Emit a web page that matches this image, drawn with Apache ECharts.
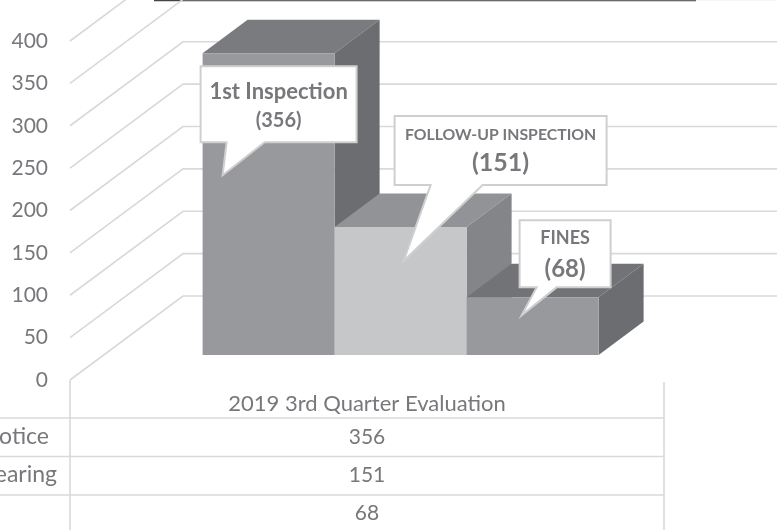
<!DOCTYPE html>
<html>
<head>
<meta charset="utf-8">
<style>
  html, body { margin: 0; padding: 0; background: #fff; overflow: hidden; }
  #chart { width: 778px; height: 530px; }
</style>
<script src="https://cdn.jsdelivr.net/npm/echarts@6/dist/echarts.min.js"></script>
</head>
<body>
<div id="chart"></div>
<script>
const categories = ["2019 3rd Quarter Evaluation"];
const yTicks = [0, 50, 100, 150, 200, 250, 300, 350, 400];
const rowNames = ["Notice", "Hearing", ""];
const inspectionValues = [356];
const hearingValues = [151];
const fineValues = [68];
const calloutTitles = ["1st Inspection", "FOLLOW-UP INSPECTION", "FINES"];

const seriesValues = [inspectionValues, hearingValues, fineValues];

const FONT = "Lato, 'Open Sans', sans-serif";
const TEXT = "#77787b";
const GRID = "#d9d9da";

// perspective of the fake 3d box, in px
const wall = { dx: 113, dy: -84 };
const barInset = { dx: 33.6, dy: -25 };
const barDepth = { dx: 45, dy: -33.5 };

const barColors = [
  { front: "#98999c", top: "#7a7b7e", side: "#6c6d70" },
  { front: "#c6c7c9", top: "#929396", side: "#848589" },
  { front: "#98999c", top: "#727376", side: "#6c6d70" },
];

// box is relative to the top left front corner of the bar, tail relative to the box
const callouts = [
  { x: -2, y: 13, w: 156, h: 76, tail: [[26, 76], [22, 109], [64, 76]],
    titleY: 26, titleSize: 22, valueY: 54, valueSize: 20 },
  { x: 60, y: -111, w: 212, h: 69, tail: [[36, 69], [9, 145], [88, 69]],
    titleY: 19, titleSize: 15.8, valueY: 47, valueSize: 25 },
  { x: 53, y: -77, w: 91, h: 67, tail: [[17, 67], [2, 95], [37, 67]],
    titleY: 18, titleSize: 18, valueY: 49, valueSize: 24 },
];

function barRect(api, seriesIndex, value) {
  const base = api.coord([0, 0]);
  const top = api.coord([0, value]);
  const band = api.size([1, 0])[0];
  const w = band / (seriesValues.length + 1.5);
  const left = base[0] - (w * seriesValues.length) / 2 + w * seriesIndex + barInset.dx;
  return { left, right: left + w, top: top[1] + barInset.dy, bottom: base[1] + barInset.dy };
}

const gridSeries = {
  type: "custom",
  z: 1,
  silent: true,
  data: yTicks.map((t) => [0, t]),
  encode: { x: 0, y: 1 },
  renderItem: (params, api) => {
    const y = api.coord([0, api.value(1)])[1];
    const x0 = params.coordSys.x;
    const right = x0 + params.coordSys.width + wall.dx;
    return {
      type: "polyline",
      shape: { points: [[x0, y], [x0 + wall.dx, y + wall.dy], [right, y + wall.dy]] },
      style: { stroke: GRID, lineWidth: 1.6, fill: null },
    };
  },
};

const barSeries = seriesValues.map((values, i) => ({
  type: "custom",
  z: 2 + i,
  silent: true,
  name: rowNames[i] || calloutTitles[i],
  data: values.map((v, c) => [c, v]),
  encode: { x: 0, y: 1 },
  renderItem: (params, api) => {
    const r = barRect(api, i, api.value(1));
    const c = barColors[i];
    const d = barDepth;
    return {
      type: "group",
      children: [
        { type: "polygon",
          shape: { points: [[r.left, r.top], [r.right, r.top], [r.right + d.dx, r.top + d.dy], [r.left + d.dx, r.top + d.dy]] },
          style: { fill: c.top } },
        { type: "polygon",
          shape: { points: [[r.right, r.top], [r.right + d.dx, r.top + d.dy], [r.right + d.dx, r.bottom + d.dy], [r.right, r.bottom]] },
          style: { fill: c.side } },
        { type: "rect",
          shape: { x: r.left, y: r.top, width: r.right - r.left, height: r.bottom - r.top },
          style: { fill: c.front } },
      ],
    };
  },
}));

const calloutSeries = seriesValues.map((values, i) => ({
  type: "custom",
  z: 10,
  silent: true,
  data: values.map((v, c) => [c, v]),
  encode: { x: 0, y: 1 },
  renderItem: (params, api) => {
    const v = api.value(1);
    const r = barRect(api, i, v);
    const b = callouts[i];
    const x = r.left + b.x;
    const y = r.top + b.y;
    const pts = [[x, y], [x + b.w, y], [x + b.w, y + b.h]]
      .concat(b.tail.slice().reverse().map((p) => [x + p[0], y + p[1]]))
      .concat([[x, y + b.h]]);
    const label = (text, dy, size) => ({
      type: "text",
      style: {
        text, x: x + b.w / 2, y: y + dy,
        align: "center", verticalAlign: "middle",
        fontFamily: FONT, fontWeight: "bold", fontSize: size, fill: TEXT,
      },
    });
    return {
      type: "group",
      children: [
        { type: "polygon", shape: { points: pts }, style: { fill: "#fff", stroke: "#cfcfd0", lineWidth: 2 } },
        label(calloutTitles[i], b.titleY, b.titleSize),
        label("(" + v + ")", b.valueY, b.valueSize),
      ],
    };
  },
}));

// data table under the plot
const tableLeft = 70;
const tableRight = 664;
const tableCenter = (tableLeft + tableRight) / 2;
const rowLines = [418, 456.5, 495];
const rowText = [437, 475, 513];
const rowNameRight = [49, 57, 49];

const tableGraphics = [];
rowLines.forEach((y) => {
  tableGraphics.push({ type: "line", shape: { x1: 0, y1: y, x2: tableRight, y2: y }, style: { stroke: GRID, lineWidth: 1.6 } });
});
tableGraphics.push({ type: "line", shape: { x1: tableLeft, y1: 380, x2: tableLeft, y2: 530 }, style: { stroke: GRID, lineWidth: 1.6 } });
tableGraphics.push({ type: "line", shape: { x1: tableRight, y1: 382, x2: tableRight, y2: 530 }, style: { stroke: GRID, lineWidth: 1.6 } });
seriesValues.forEach((values, i) => {
  tableGraphics.push({
    type: "text",
    style: { text: String(values[0]), x: tableCenter, y: rowText[i], align: "center", verticalAlign: "middle", fontFamily: FONT, fontSize: 21, fill: TEXT },
  });
  if (rowNames[i]) {
    tableGraphics.push({
      type: "text",
      style: { text: rowNames[i], x: rowNameRight[i], y: rowText[i], align: "right", verticalAlign: "middle", fontFamily: FONT, fontSize: 23, fill: TEXT },
    });
  }
});
// rule cut off by the top edge of the picture
tableGraphics.push({ type: "line", shape: { x1: 154, y1: 0.5, x2: 696, y2: 0.5 }, style: { stroke: "#444", lineWidth: 1.5 } });

const chart = echarts.init(document.getElementById("chart"));
chart.setOption({
  animation: false,
  backgroundColor: "#fff",
  grid: { left: 70, right: 114, top: 41, height: 339 },
  xAxis: {
    type: "category",
    data: categories,
    axisLine: { show: false },
    axisTick: { show: false },
    axisLabel: { margin: 13, color: TEXT, fontFamily: FONT, fontSize: 22 },
  },
  yAxis: {
    type: "value",
    min: 0,
    max: 400,
    interval: 50,
    axisLine: { show: false },
    axisTick: { show: false },
    splitLine: { show: false },
    axisLabel: { margin: 22, color: TEXT, fontFamily: FONT, fontSize: 21 },
  },
  graphic: tableGraphics,
  series: [gridSeries].concat(barSeries, calloutSeries),
});
</script>
</body>
</html>
